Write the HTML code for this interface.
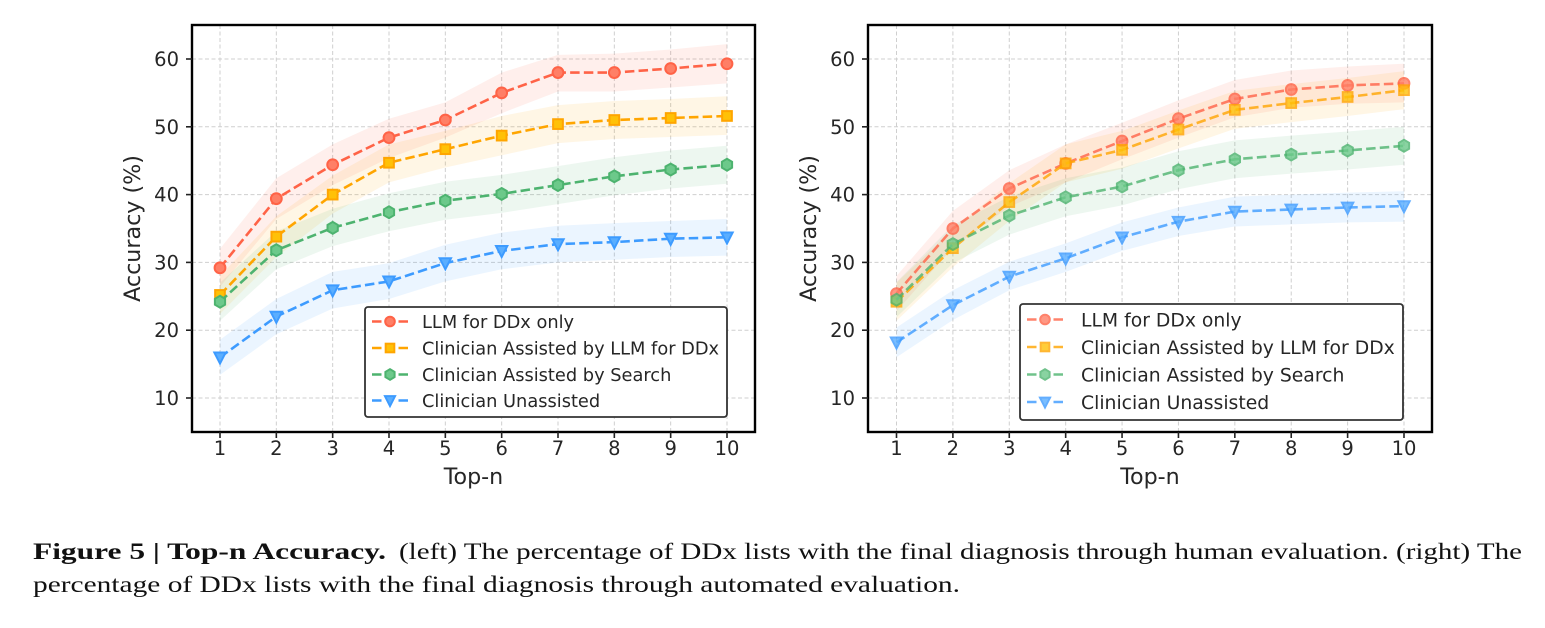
<!DOCTYPE html>
<html lang="en">
<head>
<meta charset="utf-8">
<title>Figure 5 Top-n Accuracy</title>
<style>
html,body{margin:0;padding:0;background:#fff;}
body{width:1545px;height:628px;overflow:hidden;}
svg{display:block;}
.tick{font-family:"DejaVu Sans","Liberation Sans",sans-serif;font-size:19.5px;fill:#262626;}
.axis{font-family:"DejaVu Sans","Liberation Sans",sans-serif;font-size:22.2px;fill:#262626;}
.leg{font-family:"DejaVu Sans","Liberation Sans",sans-serif;fill:#262626;}
.cap{font-family:"Liberation Serif",serif;font-size:23.5px;fill:#111;}
</style>
</head>
<body>
<svg id="fig" xmlns="http://www.w3.org/2000/svg" width="1545" height="628" viewBox="0 0 1545 628">
<text class="cap" x="33" y="559" font-weight="bold" textLength="353" lengthAdjust="spacingAndGlyphs">Figure 5 | Top-n Accuracy.</text>
<text class="cap" x="399" y="559" textLength="1123" lengthAdjust="spacingAndGlyphs">(left) The percentage of DDx lists with the final diagnosis through human evaluation. (right) The</text>
<text class="cap" x="33" y="592" textLength="927" lengthAdjust="spacingAndGlyphs">percentage of DDx lists with the final diagnosis through automated evaluation.</text>
</svg>
<script>
const categories = [1,2,3,4,5,6,7,8,9,10];
const yTicks = [10,20,30,40,50,60];
const seriesNames = ['LLM for DDx only','Clinician Assisted by LLM for DDx','Clinician Assisted by Search','Clinician Unassisted'];

const leftLlm = [29.2,39.4,44.4,48.4,51.0,55.0,58.0,58.0,58.6,59.3];
const leftLlmLo = [26.4,36.4,41.4,45.4,48.4,52.0,55.2,55.2,55.8,56.4];
const leftLlmHi = [32.0,42.4,47.4,51.2,53.6,58.0,60.6,60.8,61.4,62.2];
const leftAssist = [25.2,33.8,40.0,44.7,46.7,48.7,50.4,51.0,51.3,51.6];
const leftAssistLo = [22.4,30.8,37.2,41.8,44.0,45.8,47.6,48.2,48.5,48.8];
const leftAssistHi = [28.0,36.8,42.8,47.4,49.4,51.6,53.2,53.8,54.1,54.5];
const leftSearch = [24.2,31.8,35.1,37.4,39.1,40.1,41.4,42.7,43.7,44.4];
const leftSearchLo = [21.4,29.0,32.4,34.6,36.3,37.3,38.6,39.9,40.9,41.6];
const leftSearchHi = [27.0,34.6,37.9,40.2,41.9,42.9,44.2,45.5,46.5,47.2];
const leftUnassist = [16.0,22.0,25.9,27.2,29.9,31.7,32.7,33.0,33.5,33.7];
const leftUnassistLo = [13.4,19.4,23.2,24.6,27.2,29.0,30.0,30.4,30.8,31.0];
const leftUnassistHi = [18.6,24.6,28.6,29.9,32.6,34.4,35.4,35.8,36.1,36.4];

const rightLlm = [25.4,35.0,40.9,44.6,47.9,51.2,54.1,55.5,56.1,56.4];
const rightLlmLo = [22.8,32.2,38.2,41.8,45.2,48.4,51.4,52.8,53.4,53.6];
const rightLlmHi = [28.0,37.6,43.6,47.4,50.6,53.9,56.9,58.3,58.9,59.3];
const rightAssist = [24.2,32.1,38.9,44.6,46.6,49.6,52.5,53.5,54.4,55.4];
const rightAssistLo = [21.4,29.3,36.1,41.8,43.8,46.8,49.7,50.7,51.6,52.6];
const rightAssistHi = [27.0,34.9,41.7,47.4,49.4,52.4,55.3,56.3,57.2,58.2];
const rightSearch = [24.5,32.7,36.9,39.6,41.2,43.6,45.2,45.9,46.5,47.2];
const rightSearchLo = [21.9,29.9,34.1,36.8,38.4,40.8,42.4,43.1,43.7,44.4];
const rightSearchHi = [27.1,35.5,39.7,42.4,44.0,46.4,48.0,48.7,49.3,50.0];
const rightUnassist = [18.2,23.7,27.9,30.6,33.7,36.0,37.5,37.8,38.1,38.3];
const rightUnassistLo = [16.0,21.5,25.9,28.6,31.7,33.9,35.3,35.6,35.9,36.0];
const rightUnassistHi = [20.4,25.9,30.1,32.8,35.9,38.1,39.7,40.0,40.3,40.5];

const NS = 'http://www.w3.org/2000/svg';
const fig = document.getElementById('fig');
const lineColors = ['#ff6347','#ffa500','#4db36f','#3d9bff'];
const fillColors = ['#ff7f66','#ffc107','#6cc98a','#5aaeff'];
const markerKinds = ['circle','square','hexagon','triangle'];

function make(parent, tag, attrs, name) {
  const el = document.createElementNS(NS, tag);
  for (const k in attrs) el.setAttribute(k, attrs[k]);
  
  
  parent.appendChild(el);
  return el;
}

function marker(g, kind, cx, cy, s, fill, stroke, op, name) {
  const base = {fill: fill, stroke: stroke, 'stroke-width': 2, 'stroke-linejoin': 'miter', opacity: op};
  if (kind === 'circle') {
    make(g, 'circle', Object.assign({cx: cx, cy: cy, r: s}, base), name);
  } else if (kind === 'square') {
    make(g, 'rect', Object.assign({x: cx - s * 0.9, y: cy - s * 0.9, width: s * 1.8, height: s * 1.8}, base), name);
  } else if (kind === 'hexagon') {
    const pts = [];
    for (let i = 0; i < 6; i++) {
      const a = Math.PI / 3 * i + Math.PI / 2;
      pts.push((cx + Math.cos(a) * s * 1.1).toFixed(1) + ',' + (cy + Math.sin(a) * s * 1.1).toFixed(1));
    }
    make(g, 'polygon', Object.assign({points: pts.join(' ')}, base), name);
  } else {
    const pts = [(cx - s * 1.05) + ',' + (cy - s * 0.9), (cx + s * 1.05) + ',' + (cy - s * 0.9), cx + ',' + (cy + s * 1.15)];
    make(g, 'polygon', Object.assign({points: pts.join(' ')}, base), name);
  }
}

function drawPanel(p) {
  const g = make(fig, 'g', {}, p.id + '-chart');
  const xs = v => p.x1 + (v - 1) * (p.x10 - p.x1) / 9;
  const ys = v => 398 + (10 - v) * (398 - 59) / 50;
  const gridG = make(g, 'g', {stroke: '#cfcfcf', 'stroke-width': 1, 'stroke-dasharray': '4 2.5'}, p.id + '-grid');
  categories.forEach(c => {
    make(gridG, 'line', {x1: xs(c), x2: xs(c), y1: 25, y2: 432}, p.id + '-grid-x-' + c);
  });
  yTicks.forEach(t => {
    make(gridG, 'line', {x1: p.left, x2: p.right, y1: ys(t), y2: ys(t)}, p.id + '-grid-y-' + t);
  });
  p.series.forEach((s, i) => {
    const up = s.hi.map((v, k) => xs(categories[k]).toFixed(1) + ',' + ys(v).toFixed(1));
    const dn = s.lo.map((v, k) => xs(categories[k]).toFixed(1) + ',' + ys(v).toFixed(1)).reverse();
    make(g, 'polygon', {points: up.concat(dn).join(' '), fill: lineColors[i], opacity: 0.1}, p.id + '-band-' + markerKinds[i]);
  });
  p.series.forEach((s, i) => {
    const pts = s.val.map((v, k) => xs(categories[k]).toFixed(1) + ',' + ys(v).toFixed(1)).join(' ');
    make(g, 'polyline', {points: pts, fill: 'none', stroke: lineColors[i], 'stroke-width': 2.6, 'stroke-dasharray': '9.5 4.2', opacity: p.lineOp}, p.id + '-line-' + markerKinds[i]);
    s.val.forEach((v, k) => {
      marker(g, markerKinds[i], xs(categories[k]), ys(v), 5.4, fillColors[i], lineColors[i], p.lineOp, p.id + '-point-' + markerKinds[i] + '-' + categories[k]);
    });
  });
  make(g, 'rect', {x: p.left, y: 25, width: p.right - p.left, height: 407, fill: 'none', stroke: '#000', 'stroke-width': 2.4}, p.id + '-axes-frame');
  categories.forEach(c => {
    make(g, 'line', {x1: xs(c), x2: xs(c), y1: 432, y2: 438, stroke: '#222', 'stroke-width': 1.6}, p.id + '-x-tick-' + c);
    const t = make(g, 'text', {x: xs(c), y: 455, 'text-anchor': 'middle', class: 'tick'}, p.id + '-x-label-' + c);
    t.textContent = c;
  });
  yTicks.forEach(v => {
    make(g, 'line', {x1: p.left - 6, x2: p.left, y1: ys(v), y2: ys(v), stroke: '#222', 'stroke-width': 1.6}, p.id + '-y-tick-' + v);
    const t = make(g, 'text', {x: p.left - 13, y: ys(v) + 7, 'text-anchor': 'end', class: 'tick'}, p.id + '-y-label-' + v);
    t.textContent = v;
  });
  const xt = make(g, 'text', {x: (p.left + p.right) / 2, y: 484, 'text-anchor': 'middle', class: 'axis'}, p.id + '-x-axis-title');
  xt.textContent = 'Top-n';
  const yt = make(g, 'text', {transform: 'translate(' + (p.left - 52) + ',228.5) rotate(-90)', 'text-anchor': 'middle', class: 'axis'}, p.id + '-y-axis-title');
  yt.textContent = 'Accuracy (%)';

  const L = p.legend;
  const lg = make(g, 'g', {}, p.id + '-legend');
  make(lg, 'rect', {x: L.x, y: L.y, width: L.w, height: L.h, rx: 3, fill: '#fff', stroke: '#333', 'stroke-width': 1.8}, p.id + '-legend-box');
  seriesNames.forEach((nm, i) => {
    const cy = L.rows[i];
    const e = make(lg, 'g', {}, p.id + '-legend-entry-' + markerKinds[i]);
    make(e, 'line', {x1: L.x + 7, x2: L.x + 43, y1: cy, y2: cy, stroke: lineColors[i], 'stroke-width': 2.4, 'stroke-dasharray': '9.5 17 9.5', opacity: p.lineOp}, p.id + '-legend-line-' + markerKinds[i]);
    marker(e, markerKinds[i], L.x + 25, cy, 4.8, fillColors[i], lineColors[i], p.lineOp, p.id + '-legend-marker-' + markerKinds[i]);
    const t = make(e, 'text', {x: L.tx, y: cy + L.fs * 0.36, class: 'leg', style: 'font-size:' + L.fs + 'px'}, p.id + '-legend-label-' + markerKinds[i]);
    t.textContent = nm;
  });
}

drawPanel({
  id: 'left', left: 192, right: 755, x1: 220, x10: 727, lineOp: 1,
  series: [
    {val: leftLlm, lo: leftLlmLo, hi: leftLlmHi},
    {val: leftAssist, lo: leftAssistLo, hi: leftAssistHi},
    {val: leftSearch, lo: leftSearchLo, hi: leftSearchHi},
    {val: leftUnassist, lo: leftUnassistLo, hi: leftUnassistHi}
  ],
  legend: {x: 365, y: 307, w: 362, h: 110, tx: 422, fs: 17.8, rows: [321.5, 348, 374.5, 400.5]}
});
drawPanel({
  id: 'right', left: 868, right: 1432, x1: 896.5, x10: 1404, lineOp: 0.8,
  series: [
    {val: rightLlm, lo: rightLlmLo, hi: rightLlmHi},
    {val: rightAssist, lo: rightAssistLo, hi: rightAssistHi},
    {val: rightSearch, lo: rightSearchLo, hi: rightSearchHi},
    {val: rightUnassist, lo: rightUnassistLo, hi: rightUnassistHi}
  ],
  legend: {x: 1020, y: 304, w: 383, h: 116, tx: 1081, fs: 18.8, rows: [319.5, 347, 374.5, 402]}
});
</script>
</body>
</html>
